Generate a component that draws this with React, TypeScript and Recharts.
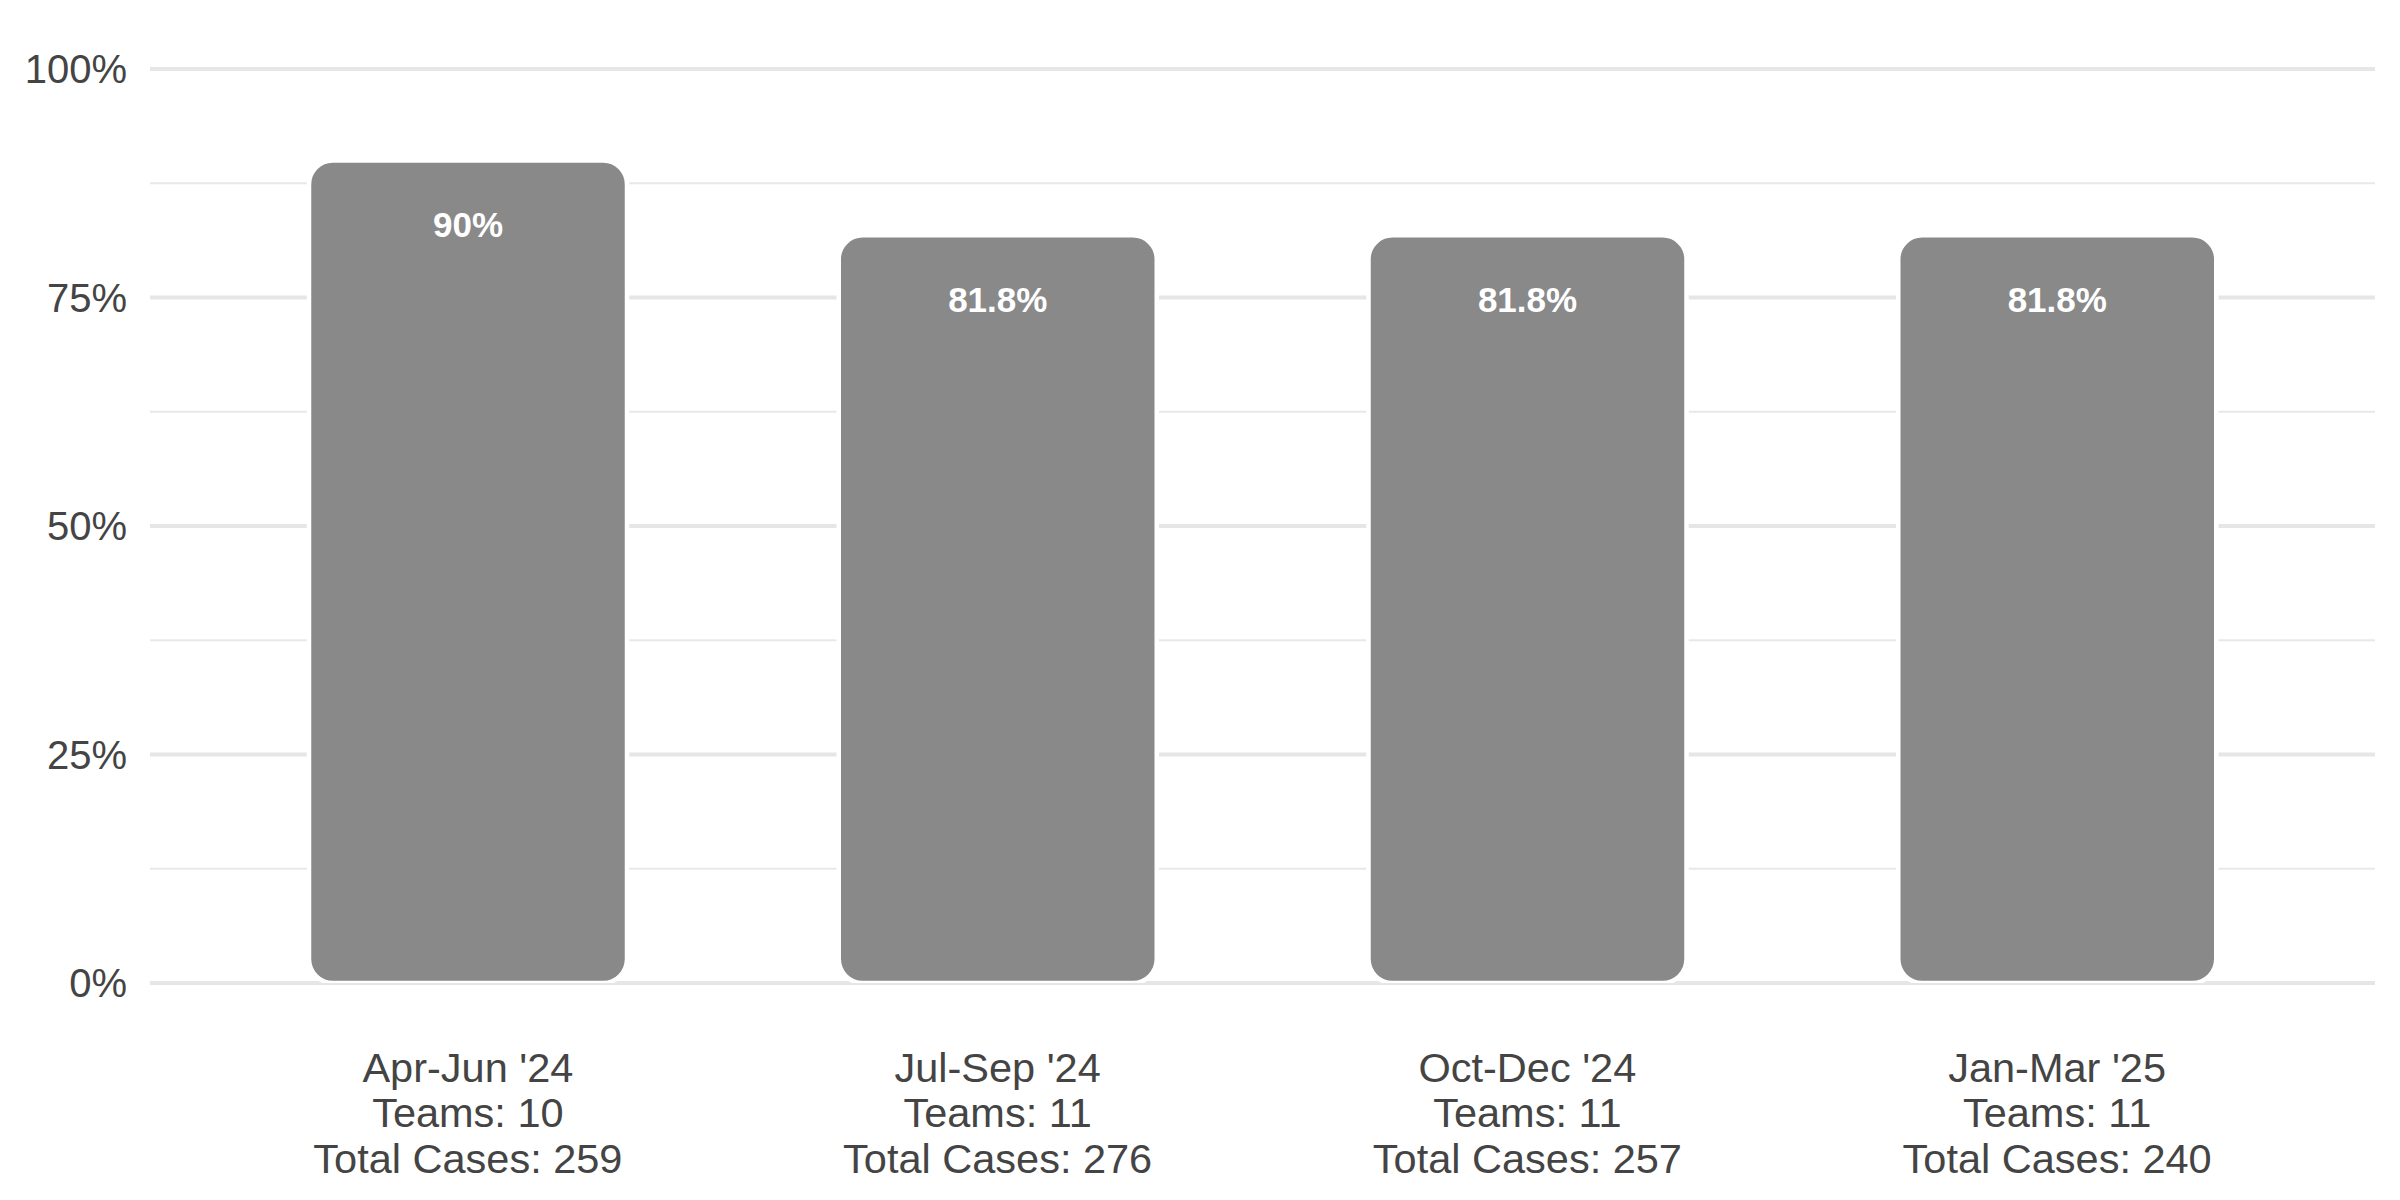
import { BarChart, Bar, XAxis, YAxis, CartesianGrid, LabelList } from "recharts";

const quarters = ["Apr-Jun '24", "Jul-Sep '24", "Oct-Dec '24", "Jan-Mar '25"];
const rates = [90, 81.8, 81.8, 81.8];
const teams = [10, 11, 11, 11];
const totalCases = [259, 276, 257, 240];

const majorTicks = [0, 25, 50, 75, 100];
const minorTicks = [12.5, 37.5, 62.5, 87.5];

const data = quarters.map((q, i) => ({
  quarter: q,
  rate: rates[i],
  teams: teams[i],
  cases: totalCases[i],
}));

const FONT = "'Liberation Sans', Arial, Helvetica, sans-serif";
const TEXT = "#444444";

// 3行の x 軸ラベル
const QuarterTick = (props: any) => {
  const { x, y, payload } = props;
  const i = quarters.indexOf(payload.value);
  const lines = [payload.value, `Teams: ${teams[i]}`, `Total Cases: ${totalCases[i]}`];
  return (
    <g>
      {lines.map((t, k) => (
        <text
          key={k}
          x={x}
          y={y + 84 + k * 45.5}
          textAnchor="middle"
          dominantBaseline="central"
          fill={TEXT}
          fontSize={41.5}
          fontFamily={FONT}
        >
          {t}
        </text>
      ))}
    </g>
  );
};

const RateLabel = (props: any) => {
  const { x, y, width, value } = props;
  return (
    <text
      x={x + width / 2}
      y={y + 64}
      textAnchor="middle"
      dominantBaseline="central"
      fill="#ffffff"
      fontWeight="bold"
      fontSize={35}
      fontFamily={FONT}
    >
      {`${value}%`}
    </text>
  );
};

export default function App() {
  return (
    <div style={{ position: "absolute", left: 0, top: 0, background: "#fff" }}>
      <BarChart
        width={2400}
        height={1200}
        data={data}
        margin={{ top: 69, right: 25, left: 0, bottom: 0 }}
      >
        <CartesianGrid
          vertical={false}
          horizontalValues={minorTicks}
          stroke="#e8e8e8"
          strokeWidth={2}
        />
        <CartesianGrid vertical={false} stroke="#e6e6e6" strokeWidth={4} />
        <XAxis
          dataKey="quarter"
          height={217}
          axisLine={false}
          tickLine={false}
          tickSize={0}
          tickMargin={0}
          padding={{ left: 53, right: 53 }}
          interval={0}
          tick={<QuarterTick />}
        />
        <YAxis
          width={150}
          domain={[0, 100]}
          ticks={majorTicks}
          allowDataOverflow
          axisLine={false}
          tickLine={false}
          tickSize={0}
          tickMargin={23}
          tickFormatter={(v) => `${v}%`}
          tick={{ fill: TEXT, fontSize: 40, fontFamily: FONT }}
        />
        <Bar
          dataKey="rate"
          fill="#898989"
          stroke="#ffffff"
          strokeWidth={4.5}
          barSize={318}
          radius={24}
          isAnimationActive={false}
        >
          <LabelList dataKey="rate" content={<RateLabel />} />
        </Bar>
      </BarChart>
    </div>
  );
}
